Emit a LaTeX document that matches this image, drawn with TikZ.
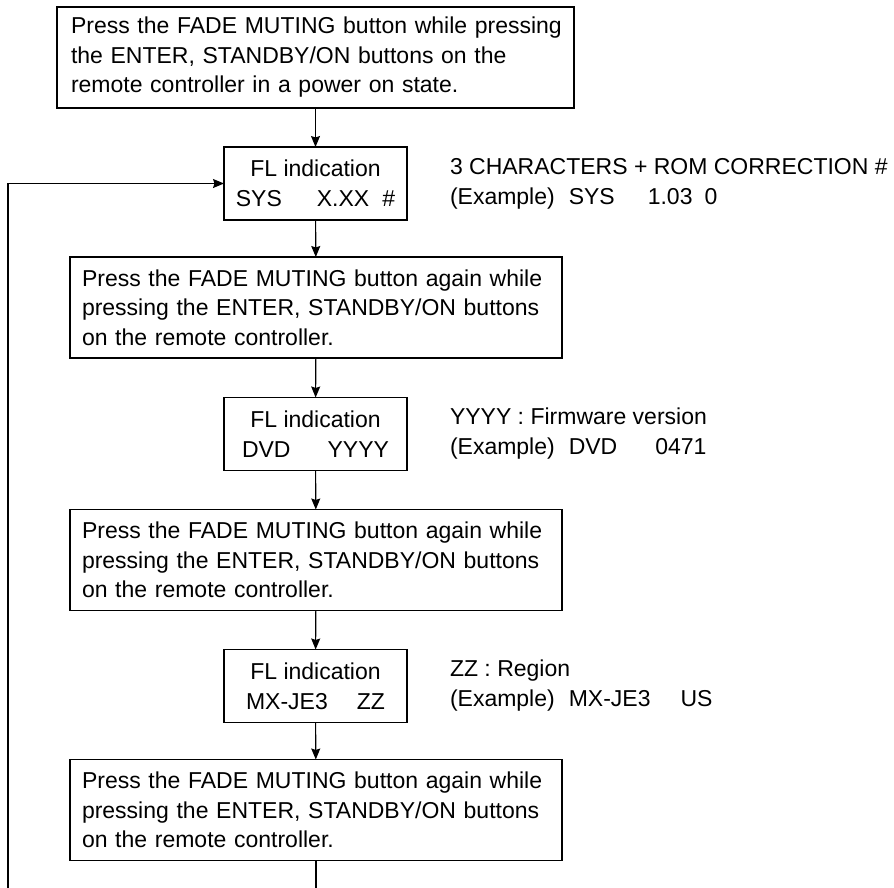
\documentclass[tikz,border=0pt]{standalone}
\usepackage{fontspec}
\setmainfont{Liberation Sans}
\usetikzlibrary{arrows.meta}
\begin{document}
\begin{tikzpicture}[x=1pt,y=-1pt,
  every node/.style={inner sep=0pt,outer sep=0pt},
  bigbox/.style={draw,line width=1.1pt,minimum width=492pt,minimum height=101pt,
    align=left,text width=468pt,font=\fontsize{23}{29.5}\selectfont},
  flbox/.style={draw,line width=1.1pt,minimum width=183pt,minimum height=73pt,
    align=center,font=\fontsize{23}{30}\selectfont},
  note/.style={anchor=west,align=left,font=\fontsize{23}{30}\selectfont},
  conn/.style={line width=1.1pt,-{Stealth[length=11pt,width=9pt,inset=1.5pt]}},
  plain/.style={line width=1.1pt}]
\useasboundingbox (0,0) rectangle (894,888);

\node[bigbox,minimum width=517pt,text width=489pt] (top) at (315.5,57.5)
  {\mbox{Press the FADE MUTING button while pressing}\\\mbox{the ENTER, STANDBY/ON buttons on the}\\\mbox{remote controller in a power on state.}};

\node[flbox] (fl1) at (315.5,183.5)
  {FL indication\\SYS\hspace{35pt}X.XX\hspace{13pt}\#};
\node[note] (n1) at (450,183.5)
  {3 CHARACTERS + ROM CORRECTION \#\\(Example)\hspace{14pt}SYS\hspace{33pt}1.03\hspace{12pt}0};

\node[bigbox] (b2) at (316,307.5)
  {\mbox{Press the FADE MUTING button again while}\\\mbox{pressing the ENTER, STANDBY/ON buttons}\\\mbox{on the remote controller.}};

\node[flbox] (fl2) at (315.5,434)
  {FL indication\\DVD\hspace{37pt}YYYY};
\node[note] (n2) at (450,434)
  {YYYY : Firmware version\\(Example)\hspace{14pt}DVD\hspace{38pt}0471};

\node[bigbox] (b3) at (316,560)
  {\mbox{Press the FADE MUTING button again while}\\\mbox{pressing the ENTER, STANDBY/ON buttons}\\\mbox{on the remote controller.}};

\node[flbox] (fl3) at (315.5,686)
  {FL indication\\MX-JE3\hspace{29pt}ZZ};
\node[note] (n3) at (450,686)
  {ZZ : Region\\(Example)\hspace{14pt}MX-JE3\hspace{30pt}US};

\node[bigbox] (b4) at (316,810)
  {\mbox{Press the FADE MUTING button again while}\\\mbox{pressing the ENTER, STANDBY/ON buttons}\\\mbox{on the remote controller.}};

\coordinate (bend) at (8,183.5);
\coordinate (loopend) at (8,888);
\coordinate (downend) at (316,888);

\draw[conn] (top) -- (fl1);
\draw[conn] (fl1) -- (b2);
\draw[conn] (b2) -- (fl2);
\draw[conn] (fl2) -- (b3);
\draw[conn] (b3) -- (fl3);
\draw[conn] (fl3) -- (b4);
\draw[plain] (b4) -- (downend);
\draw[conn] (loopend) -- (bend) -- (fl1.west);
\end{tikzpicture}
\end{document}
